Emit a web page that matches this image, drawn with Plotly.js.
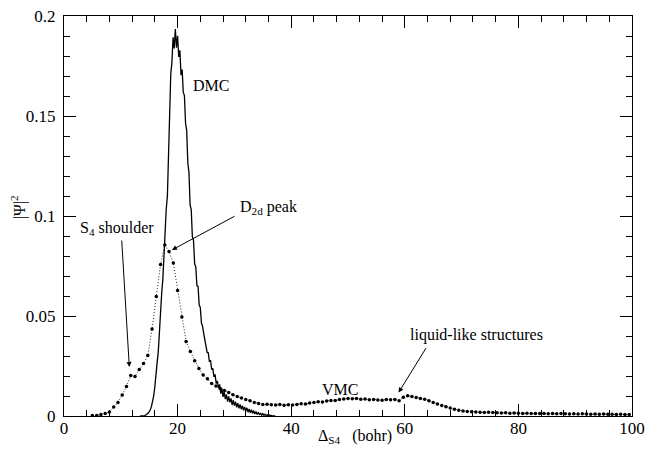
<!DOCTYPE html>
<html>
<head>
<meta charset="utf-8">
<script src="https://cdn.plot.ly/plotly-3.0.1.min.js"></script>
<style>html,body{margin:0;padding:0;background:#fff;}#chart{width:647px;height:454px;}</style>
</head>
<body>
<div id="chart"></div>
<script>
// DMC distribution (solid, noisy)
const dmcX = [13.4,14.0,14.2,14.4,14.6,14.8,15.0,15.2,15.4,15.6,15.8,16.0,16.2,16.4,16.6,16.8,17.0,17.2,17.4,17.6,17.8,18.0,18.2,18.4,18.6,18.8,19.0,19.2,19.4,19.6,19.8,20.0,20.2,20.4,20.6,20.8,21.0,21.2,21.4,21.6,21.8,22.0,22.2,22.4,22.6,22.8,23.0,23.2,23.4,23.6,23.8,24.0,24.2,24.4,24.6,24.8,25.0,25.2,25.4,25.6,25.8,26.0,26.2,26.4,26.6,26.8,27.0,27.2,27.4,27.6,27.8,28.0,28.2,28.4,28.6,28.8,29.0,29.2,29.4,29.6,29.8,30.0,30.2,30.4,30.6,30.8,31.0,31.2,31.4,31.6,31.8,32.0,32.2,32.4,32.6,32.8,33.0,33.2,33.4,33.6,33.8,34.0,34.2,34.4,34.6,34.8,35.0,35.2,35.4,35.6,35.8,36.0,36.2,36.4,36.6,36.8,37.0,37.2];
const dmcY = [0.0000,0.0000,0.0002,0.0005,0.0009,0.0014,0.0022,0.0031,0.0048,0.0075,0.0102,0.0148,0.0195,0.0268,0.0322,0.0431,0.0489,0.0615,0.0683,0.0822,0.0878,0.1035,0.1098,0.1335,0.1452,0.1712,0.1768,0.1893,0.1838,0.1935,0.1842,0.1901,0.1795,0.1828,0.1705,0.1732,0.1618,0.1602,0.1465,0.1428,0.1265,0.1218,0.1055,0.1032,0.0895,0.0878,0.0762,0.0745,0.0652,0.0648,0.0556,0.0542,0.0465,0.0448,0.0412,0.0378,0.0362,0.0318,0.0316,0.0272,0.0278,0.0232,0.0238,0.0195,0.0208,0.0162,0.0175,0.0138,0.0158,0.0112,0.0138,0.0096,0.0122,0.0084,0.0108,0.0072,0.0098,0.0068,0.0088,0.0055,0.0079,0.0052,0.0072,0.0043,0.0064,0.0038,0.0058,0.0034,0.0052,0.0028,0.0045,0.0024,0.0041,0.0019,0.0035,0.0016,0.0031,0.0013,0.0027,0.0010,0.0023,0.0008,0.0019,0.0006,0.0015,0.0004,0.0012,0.0003,0.0009,0.0002,0.0006,0.0001,0.0004,0.0001,0.0002,0.0000,0.0001,0.0000];

// VMC distribution (dotted with markers)
const vmcX = [5,5.75,6.5,7.25,8,8.75,9.5,10.25,11,11.75,12.5,13.25,14,14.75,15.5,16.25,17,17.75,18.5,19.25,20,20.75,21.5,22.25,23,23.75,24.5,25.25,26,26.75,27.5,28.25,29,29.75,30.5,31.25,32,32.75,33.5,34.25,35,35.75,36.5,37.25,38,38.75,39.5,40.25,41,41.75,42.5,43.25,44,44.75,45.5,46.25,47,47.75,48.5,49.25,50,50.75,51.5,52.25,53,53.75,54.5,55.25,56,56.75,57.5,58.25,59,59.75,60.5,61.25,62,62.75,63.5,64.25,65,65.75,66.5,67.25,68,68.75,69.5,70.25,71,71.75,72.5,73.25,74,74.75,75.5,76.25,77,77.75,78.5,79.25,80,80.75,81.5,82.25,83,83.75,84.5,85.25,86,86.75,87.5,88.25,89,89.75,90.5,91.25,92,92.75,93.5,94.25,95,95.75,96.5,97.25,98,98.75,99.5];
const vmcY = [0.0002,0.0003,0.0008,0.0012,0.0020,0.0045,0.0068,0.0105,0.0148,0.0202,0.0198,0.0232,0.0262,0.0302,0.0435,0.0598,0.0758,0.0855,0.0822,0.0765,0.0628,0.0495,0.0372,0.0322,0.0276,0.0238,0.0205,0.0186,0.0162,0.0150,0.0138,0.0128,0.0118,0.0106,0.0097,0.0090,0.0083,0.0076,0.0068,0.0063,0.0058,0.0059,0.0056,0.0055,0.0057,0.0054,0.0056,0.0055,0.0058,0.0061,0.0060,0.0065,0.0068,0.0071,0.0070,0.0075,0.0078,0.0077,0.0082,0.0085,0.0088,0.0086,0.0088,0.0084,0.0085,0.0081,0.0083,0.0080,0.0079,0.0082,0.0081,0.0083,0.0076,0.0094,0.0101,0.0097,0.0092,0.0088,0.0084,0.0076,0.0068,0.0060,0.0053,0.0046,0.0040,0.0034,0.0029,0.0025,0.0023,0.0021,0.0020,0.0019,0.0018,0.0019,0.0017,0.0016,0.0015,0.0016,0.0014,0.0015,0.0014,0.0013,0.0014,0.0013,0.0012,0.0013,0.0012,0.0011,0.0012,0.0011,0.0012,0.0011,0.0010,0.0011,0.0010,0.0011,0.0010,0.0009,0.0010,0.0009,0.0010,0.0009,0.0009,0.0008,0.0009,0.0008,0.0008];

// Labels
const xTickVals = [0,20,40,60,80,100];
const yTickVals = [0,0.05,0.1,0.15,0.2];
const xTitle = "Δ<sub>S4</sub>\u00a0\u00a0\u00a0(bohr)";
const yTitle = "|Ψ|<sup>2</sup>";
const labels = [
  {text:"DMC", x:25.9, y:0.1655},
  {text:"VMC", x:48.6, y:0.0135},
  {text:"S<sub>4</sub> shoulder", x:9.3, y:0.0938},
  {text:"D<sub>2d</sub> peak", x:36.0, y:0.1045},
  {text:"liquid-like structures", x:72.7, y:0.0405}
];
const arrows = [
  {x:11.5, y:0.0245, ax:10.15, ay:0.0885},
  {x:19.0, y:0.0830, ax:30.3, ay:0.1003},
  {x:58.9, y:0.0117, ax:63.9, ay:0.0347}
];

const FONT = "'Liberation Serif', 'Times New Roman', serif";

const traces = [
  {x:vmcX, y:vmcY, type:'scatter', mode:'lines+markers',
   line:{color:'#222', width:1, dash:'1px,2px'},
   marker:{color:'#000', size:3.5}, showlegend:false, hoverinfo:'skip'},
  {x:dmcX, y:dmcY, type:'scatter', mode:'lines',
   line:{color:'#000', width:1.3}, showlegend:false, hoverinfo:'skip'}
];

const ann = [];
labels.forEach(l => ann.push({x:l.x, y:l.y, xref:'x', yref:'y', text:l.text, showarrow:false,
  xanchor:'center', yanchor:'middle', font:{family:FONT, size:16, color:'#000'}}));
arrows.forEach(a => ann.push({x:a.x, y:a.y, ax:a.ax, ay:a.ay, xref:'x', yref:'y', axref:'x', ayref:'y',
  text:'', showarrow:true, arrowhead:2, arrowsize:1, arrowwidth:1, arrowcolor:'#000', standoff:0, startstandoff:0}));
// axis titles, placed as in the reference
ann.push({xref:'paper', yref:'paper', x:0.512, y:-0.052, xanchor:'center', yanchor:'middle',
  text:xTitle, showarrow:false, font:{family:FONT, size:16, color:'#000'}});
ann.push({xref:'paper', yref:'paper', x:-0.081, y:0.522, xanchor:'center', yanchor:'middle', textangle:-90,
  text:yTitle, showarrow:false, font:{family:FONT, size:16, color:'#000'}});

const axisCommon = {
  showgrid:false, zeroline:false, showline:true, linecolor:'#000', linewidth:1,
  mirror:'allticks', ticks:'inside', ticklen:12, tickwidth:1, tickcolor:'#000',
  tickfont:{family:FONT, size:17, color:'#000'}
};

const layout = {
  width:647, height:454,
  margin:{l:64, r:15, t:16, b:38},
  paper_bgcolor:'#fff', plot_bgcolor:'#fff',
  font:{family:FONT, color:'#000'},
  xaxis:Object.assign({}, axisCommon, {
    range:[0,100], tickvals:xTickVals, ticklabelstandoff:-3,
    minor:{dtick:4, tick0:0, ticks:'inside', ticklen:6, tickwidth:1, tickcolor:'#000', showgrid:false}
  }),
  yaxis:Object.assign({}, axisCommon, {
    range:[0,0.2], tickvals:yTickVals, ticklabelstandoff:4,
    minor:{dtick:0.01, tick0:0, ticks:'inside', ticklen:6, tickwidth:1, tickcolor:'#000', showgrid:false}
  }),
  annotations:ann
};

Plotly.newPlot('chart', traces, layout, {staticPlot:true, displayModeBar:false});
</script>
</body>
</html>
